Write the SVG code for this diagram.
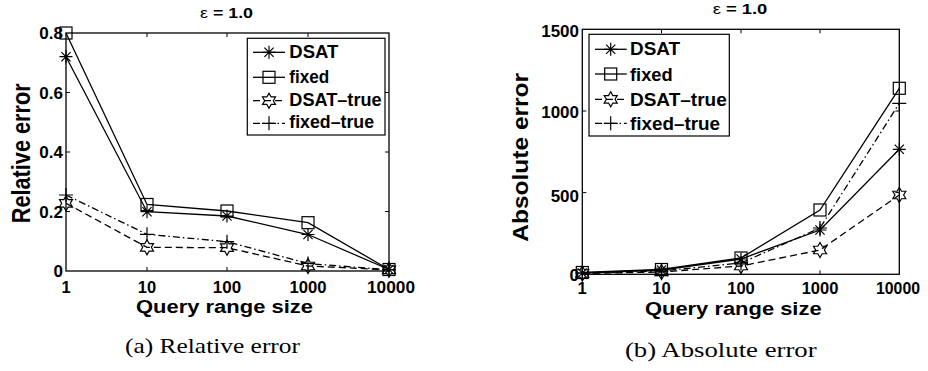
<svg xmlns="http://www.w3.org/2000/svg" width="928" height="371" viewBox="0 0 928 371">
<style>
.ax{fill:none;stroke:#000;stroke-width:1.3}
.tk{fill:none;stroke:#000;stroke-width:1}
.ln{fill:none;stroke:#000;stroke-width:1.3}
.dash{stroke-dasharray:7 4}
.dd{stroke-dasharray:7 3 1.5 3}
.mk{fill:none;stroke:#000;stroke-width:1.2}
.t{font-family:"Liberation Sans",Arial,sans-serif;font-weight:bold;fill:#000}
.tick{font-size:17px}
.xt{font-size:16.5px}
.xl{font-size:18px;text-anchor:middle}
.ttl{font-size:15px;text-anchor:middle}
.lgt{font-size:17.5px}
.cap{font-family:"Liberation Serif","Times New Roman",serif;font-size:22px;fill:#000;text-anchor:middle}
.lg{fill:#fff;stroke:#000;stroke-width:1.2}
.end{text-anchor:end}
.mid{text-anchor:middle}
</style>
<defs>
<g id="mA" class="mk"><path d="M-6.5,0H6.5M0,-6.5V6.5M-4.6,-4.6L4.6,4.6M-4.6,4.6L4.6,-4.6"/></g>
<g id="mS" class="mk"><rect x="-6" y="-6" width="12" height="12"/></g>
<g id="mH" class="mk"><polygon points="0,-7.5 2.165,-3.75 6.5,-3.75 4.33,0 6.5,3.75 2.165,3.75 0,7.5 -2.165,3.75 -6.5,3.75 -4.33,0 -6.5,-3.75 -2.165,-3.75"/></g>
<g id="mP" class="mk"><path d="M-7,0H7M0,-7V7"/></g>
</defs>

<!-- Plot (a) -->
<g id="plot-a">
  <rect class="ax" x="66" y="33" width="323" height="238"/>
  <path class="tk" d="M147,271v-4M227,271v-4M308,271v-4M147,33v4M227,33v4M308,33v4M66,92.5h4M66,152h4M66,211.5h4M389,92.5h-4M389,152h-4M389,211.5h-4"/>
  <g id="a-series">
    <polyline class="ln" points="66,56.7 147,211.7 227,216 308,234.5 389,269.5"/>
    <polyline class="ln" points="66,33 147,204.5 227,211 308,222.7 389,269.5"/>
    <polyline class="ln dash" points="66,203.3 147,247.3 227,247.7 308,266 389,269.8"/>
    <polyline class="ln dd" points="66,195 147,234.3 227,241.7 308,263.5 389,269.8"/>
    <use href="#mA" x="66" y="56.7"/><use href="#mA" x="147" y="211.7"/><use href="#mA" x="227" y="216"/><use href="#mA" x="308" y="234.5"/><use href="#mA" x="389" y="269.5"/>
    <use href="#mS" x="66" y="33"/><use href="#mS" x="147" y="204.5"/><use href="#mS" x="227" y="211"/><use href="#mS" x="308" y="222.7"/><use href="#mS" x="389" y="269.5"/>
    <use href="#mH" x="66" y="203.3"/><use href="#mH" x="147" y="247.3"/><use href="#mH" x="227" y="247.7"/><use href="#mH" x="308" y="266"/><use href="#mH" x="389" y="269.8"/>
    <use href="#mP" x="66" y="195"/><use href="#mP" x="147" y="234.3"/><use href="#mP" x="227" y="241.7"/><use href="#mP" x="308" y="263.5"/><use href="#mP" x="389" y="269.8"/>
  </g>
  <g id="a-legend">
    <rect class="lg" x="247.3" y="38.3" width="137.7" height="96.7"/>
    <path class="ln" d="M253,52.3H285"/><use href="#mA" x="269" y="52.3"/>
    <path class="ln" d="M253,77.3H285"/><use href="#mS" x="269" y="77.3"/>
    <path class="ln dash" d="M253,100.7H285"/><use href="#mH" x="269" y="100.7"/>
    <path class="ln dd" d="M253,123.3H285"/><use href="#mP" x="269" y="123.3"/>
    <text class="t lgt" x="289.3" y="58.3" textLength="49" lengthAdjust="spacingAndGlyphs">DSAT</text>
    <text class="t lgt" x="289.3" y="83.3" textLength="40" lengthAdjust="spacingAndGlyphs">fixed</text>
    <text class="t lgt" x="289.3" y="106" textLength="92.3" lengthAdjust="spacingAndGlyphs">DSAT–true</text>
    <text class="t lgt" x="289.3" y="128.3" textLength="84.7" lengthAdjust="spacingAndGlyphs">fixed–true</text>
  </g>
  <g id="a-ticklabels" class="t tick">
    <text class="end" x="63" y="277">0</text>
    <text class="end" x="63" y="217.8">0.2</text>
    <text class="end" x="63" y="158.3">0.4</text>
    <text class="end" x="63" y="99">0.6</text>
    <text class="end" x="63" y="39.3">0.8</text>
  </g>
  <g id="a-xticklabels" class="t xt">
    <text class="mid" x="66" y="292.5">1</text>
    <text class="mid" x="147" y="292.5" textLength="18.3" lengthAdjust="spacingAndGlyphs">10</text>
    <text class="mid" x="227" y="292.5" textLength="28.3" lengthAdjust="spacingAndGlyphs">100</text>
    <text class="mid" x="308" y="292.5" textLength="37" lengthAdjust="spacingAndGlyphs">1000</text>
    <text class="mid" x="391" y="292.5" textLength="48" lengthAdjust="spacingAndGlyphs">10000</text>
  </g>
  <text class="t xl" x="224.5" y="312.7" textLength="177" lengthAdjust="spacingAndGlyphs">Query range size</text>
  <text class="t" font-size="25" text-anchor="middle" transform="translate(30 153.3) rotate(-90)" textLength="140" lengthAdjust="spacingAndGlyphs">Relative error</text>
  <text class="t ttl" x="226.5" y="18" textLength="53" lengthAdjust="spacingAndGlyphs"><tspan font-weight="normal">ε</tspan> = 1.0</text>
  <text class="cap" x="212.5" y="353.3" textLength="175" lengthAdjust="spacingAndGlyphs">(a) Relative error</text>
</g>

<!-- Plot (b) -->
<g id="plot-b">
  <rect class="ax" x="582.3" y="29.3" width="317" height="245"/>
  <path class="tk" d="M661.5,274.3v-4M741,274.3v-4M820,274.3v-4M661.5,29.3v4M741,29.3v4M820,29.3v4M582.3,111h4M582.3,192.6h4M899.3,111h-4M899.3,192.6h-4"/>
  <g id="b-series">
    <polyline class="ln" points="582.3,273 661.5,270 741,259 820,230 899.3,149.3"/>
    <polyline class="ln" points="582.3,272.5 661.5,269.5 741,258 820,210 899.3,88.3"/>
    <polyline class="ln dash" points="582.3,273.5 661.5,272 741,266 820,250 899.3,195"/>
    <polyline class="ln dd" points="582.3,273 661.5,271 741,263 820,228 899.3,103.3"/>
    <use href="#mA" x="582.3" y="273"/><use href="#mA" x="661.5" y="270"/><use href="#mA" x="741" y="259"/><use href="#mA" x="820" y="230"/><use href="#mA" x="899.3" y="149.3"/>
    <use href="#mS" x="582.3" y="272.5"/><use href="#mS" x="661.5" y="269.5"/><use href="#mS" x="741" y="258"/><use href="#mS" x="820" y="210"/><use href="#mS" x="899.3" y="88.3"/>
    <use href="#mH" x="582.3" y="273.5"/><use href="#mH" x="661.5" y="272"/><use href="#mH" x="741" y="266"/><use href="#mH" x="820" y="250"/><use href="#mH" x="899.3" y="195"/>
    <use href="#mP" x="582.3" y="273"/><use href="#mP" x="661.5" y="271"/><use href="#mP" x="741" y="263"/><use href="#mP" x="820" y="228"/><use href="#mP" x="899.3" y="103.3"/>
  </g>
  <g id="b-legend">
    <rect class="lg" x="589" y="34.3" width="140.3" height="101.7"/>
    <path class="ln" d="M595,49.3H626.7"/><use href="#mA" x="610.7" y="49.3"/>
    <path class="ln" d="M595,74H626.7"/><use href="#mS" x="610.7" y="74"/>
    <path class="ln dash" d="M595,99.3H626.7"/><use href="#mH" x="610.7" y="99.3"/>
    <path class="ln dd" d="M595,123.3H626.7"/><use href="#mP" x="610.7" y="123.3"/>
    <text class="t lgt" x="630" y="55" textLength="50" lengthAdjust="spacingAndGlyphs">DSAT</text>
    <text class="t lgt" x="630" y="81" textLength="42.7" lengthAdjust="spacingAndGlyphs">fixed</text>
    <text class="t lgt" x="630" y="106" textLength="96.7" lengthAdjust="spacingAndGlyphs">DSAT–true</text>
    <text class="t lgt" x="630" y="130" textLength="90" lengthAdjust="spacingAndGlyphs">fixed–true</text>
  </g>
  <g id="b-ticklabels" class="t tick">
    <text class="end" x="579" y="281">0</text>
    <text class="end" x="579" y="201.7">500</text>
    <text class="end" x="579" y="117.5">1000</text>
    <text class="end" x="579" y="37.3">1500</text>
  </g>
  <g id="b-xticklabels" class="t xt">
    <text class="mid" x="582" y="294">1</text>
    <text class="mid" x="661.5" y="294">10</text>
    <text class="mid" x="741" y="294">100</text>
    <text class="mid" x="820" y="294">1000</text>
    <text class="mid" x="898" y="294" textLength="44" lengthAdjust="spacingAndGlyphs">10000</text>
  </g>
  <text class="t xl" x="733.3" y="314.5" textLength="176.7" lengthAdjust="spacingAndGlyphs">Query range size</text>
  <text class="t" font-size="21.5" text-anchor="middle" transform="translate(528.3 157.3) rotate(-90)" textLength="168.7" lengthAdjust="spacingAndGlyphs">Absolute error</text>
  <text class="t ttl" x="740" y="14" textLength="54.7" lengthAdjust="spacingAndGlyphs"><tspan font-weight="normal">ε</tspan> = 1.0</text>
  <text class="cap" x="720.8" y="356.7" textLength="191.7" lengthAdjust="spacingAndGlyphs">(b) Absolute error</text>
</g>
</svg>
